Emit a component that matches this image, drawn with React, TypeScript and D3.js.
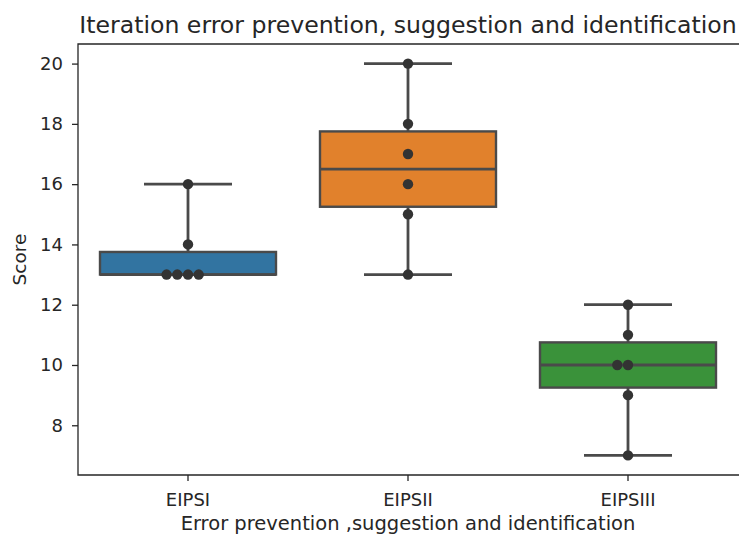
import { useEffect, useRef } from "react";
import * as d3 from "d3";

const categories = ["EIPSI", "EIPSII", "EIPSIII"];
const eipsI = [16, 14, 13, 13, 13, 13];
const eipsII = [20, 18, 17, 16, 15, 13];
const eipsIII = [12, 11, 10, 10, 9, 7];
const seriesValues = [eipsI, eipsII, eipsIII];
const colors = ["#3274a1", "#e1812c", "#3a923a"];
const yTicks = [8, 10, 12, 14, 16, 18, 20];

const FONT = "DejaVu Sans, sans-serif";

export default function App() {
  const ref = useRef<SVGSVGElement | null>(null);

  useEffect(() => {
    const width = 739;
    const height = 535;
    const margin = { top: 44, right: 1, bottom: 60, left: 78 };

    const svg = d3.select(ref.current);
    svg.selectAll("*").remove();

    const all = seriesValues.flat();
    const [lo, hi] = d3.extent(all) as [number, number];
    const pad = (hi - lo) * 0.05;

    const x = d3
      .scaleBand()
      .domain(categories)
      .range([margin.left, width - margin.right])
      .paddingInner(0.2)
      .paddingOuter(0.1);

    const y = d3
      .scaleLinear()
      .domain([lo - pad, hi + pad])
      .range([height - margin.bottom, margin.top]);

    const line = "#4a4a4a";

    /* ===== boxes ===== */
    seriesValues.forEach((vals, i) => {
      const cat = categories[i];
      const sorted = [...vals].sort((a, b) => a - b);
      const q1 = d3.quantile(sorted, 0.25)!;
      const med = d3.quantile(sorted, 0.5)!;
      const q3 = d3.quantile(sorted, 0.75)!;
      const wLo = sorted[0];
      const wHi = sorted[sorted.length - 1];

      const x0 = x(cat)!;
      const bw = x.bandwidth();
      const cx = x0 + bw / 2;
      const g = svg.append("g");

      // whiskers
      g.append("line")
        .attr("x1", cx).attr("x2", cx)
        .attr("y1", y(q3)).attr("y2", y(wHi))
        .attr("stroke", line).attr("stroke-width", 2.8);
      g.append("line")
        .attr("x1", cx).attr("x2", cx)
        .attr("y1", y(q1)).attr("y2", y(wLo))
        .attr("stroke", line).attr("stroke-width", 2.8);
      [wLo, wHi].forEach((v) => {
        g.append("line")
          .attr("x1", cx - bw / 4).attr("x2", cx + bw / 4)
          .attr("y1", y(v)).attr("y2", y(v))
          .attr("stroke", line).attr("stroke-width", 2.8);
      });

      g.append("rect")
        .attr("x", x0)
        .attr("width", bw)
        .attr("y", y(q3))
        .attr("height", y(q1) - y(q3))
        .attr("fill", colors[i])
        .attr("stroke", line)
        .attr("stroke-width", 2.4);

      g.append("line")
        .attr("x1", x0).attr("x2", x0 + bw)
        .attr("y1", y(med)).attr("y2", y(med))
        .attr("stroke", line).attr("stroke-width", 2.8);

      // swarm points
      const r = 5.2;
      const step = 10.7;
      const placed: { px: number; py: number }[] = [];
      vals.forEach((v) => {
        const py = y(v);
        const cands = [0];
        for (let k = 1; k < 10; k++) cands.push(-k, k);
        for (const k of cands) {
          const px = cx + k * step;
          const hit = placed.some(
            (p) => Math.hypot(p.px - px, p.py - py) < step - 0.5
          );
          if (!hit) {
            placed.push({ px, py });
            break;
          }
        }
      });
      g.selectAll("circle")
        .data(placed)
        .enter()
        .append("circle")
        .attr("cx", (d) => d.px)
        .attr("cy", (d) => d.py)
        .attr("r", r)
        .attr("fill", "#333333");
    });

    /* ===== axes ===== */
    const xAxis = svg
      .append("g")
      .attr("transform", `translate(0,${height - margin.bottom})`)
      .call(d3.axisBottom(x).tickSize(6).tickPadding(12));
    const yAxis = svg
      .append("g")
      .attr("transform", `translate(${margin.left},0)`)
      .call(d3.axisLeft(y).tickValues(yTicks).tickSize(6).tickPadding(9));

    [xAxis, yAxis].forEach((a) => {
      a.select(".domain").remove();
      a.selectAll("line").attr("stroke", "#262626").attr("stroke-width", 1.3);
      a.selectAll("text")
        .attr("fill", "#262626")
        .style("font-family", FONT)
        .style("font-size", "18px");
    });

    const bottom = height - margin.bottom;
    svg.append("path")
      .attr("d", `M${width + 2},${margin.top}H${margin.left}V${bottom}H${width + 2}`)
      .attr("fill", "none")
      .attr("stroke", "#262626")
      .attr("stroke-width", 1.3);

    /* ===== labels ===== */
    const midX = (margin.left + width - margin.right) / 2;
    svg.append("text")
      .attr("x", midX)
      .attr("y", 33)
      .attr("text-anchor", "middle")
      .style("font-family", FONT)
      .style("font-size", "23.6px")
      .attr("fill", "#262626")
      .text("Iteration error prevention, suggestion and identification");

    svg.append("text")
      .attr("x", midX)
      .attr("y", 530)
      .attr("text-anchor", "middle")
      .style("font-family", FONT)
      .style("font-size", "19.5px")
      .attr("fill", "#262626")
      .text("Error prevention ,suggestion and identification");

    svg.append("text")
      .attr("transform", `translate(26,${(margin.top + bottom) / 2}) rotate(-90)`)
      .attr("text-anchor", "middle")
      .style("font-family", FONT)
      .style("font-size", "18.5px")
      .attr("fill", "#262626")
      .text("Score");
  }, []);

  return (
    <svg
      ref={ref}
      width={739}
      height={535}
      style={{ position: "absolute", left: 0, top: 0, background: "#fff" }}
    />
  );
}
